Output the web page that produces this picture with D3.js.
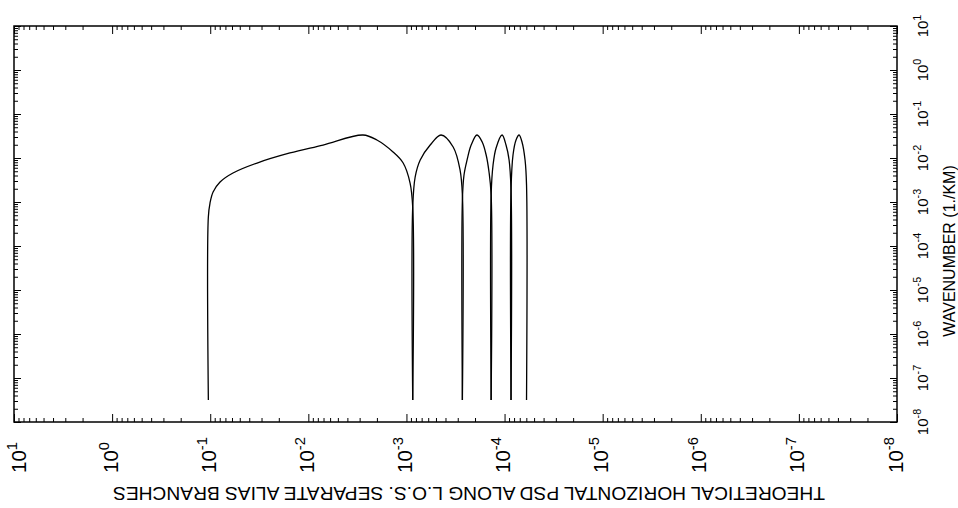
<!DOCTYPE html>
<html>
<head>
<meta charset="utf-8">
<script src="https://cdn.jsdelivr.net/npm/d3@7"></script>
<style>
    body { margin: 0; background: #fff; }
    text { font-family: 'Liberation Sans', Arial, sans-serif; fill: #000; }
</style>
</head>
<body>
<div id="graph"></div>
<script>
`use strict`;

// tick label exponents (bottom axis runs 10^1 -> 10^-8, right axis 10^-8 -> 10^1)
let bottomExps = [1, 0, -1, -2, -3, -4, -5, -6, -7, -8];
let rightExps = [-8, -7, -6, -5, -4, -3, -2, -1, 0, 1];

let bottomTitle = 'THEORETICAL HORIZONTAL PSD ALONG L.O.S. SEPARATE ALIAS BRANCHES';
let rightTitle = 'WAVENUMBER (1./KM)';

// alias branches, [horizontal value, vertical value]
let branch1 = [
    [1.045e-1, 3.16e-8], [1.045e-1, 4.57e-4], [1.005e-1, 9.48e-4], [9.35e-2, 1.69e-3],
    [7.94e-2, 2.85e-3], [5.86e-2, 4.56e-3], [3.33e-2, 7.69e-3], [1.54e-2, 1.30e-2],
    [7.08e-3, 1.97e-2], [2.77e-3, 3.33e-2], [2.00e-3, 2.56e-2], [1.37e-3, 1.37e-2],
    [1.08e-3, 7.69e-3], [9.18e-4, 2.70e-3], [8.63e-4, 7.69e-4], [8.63e-4, 3.16e-8]
];
let branch2 = [
    [8.63e-4, 3.16e-8], [8.63e-4, 7.70e-4], [8.15e-4, 3.70e-3], [7.24e-4, 9.02e-3],
    [5.73e-4, 1.97e-2], [4.44e-4, 3.33e-2], [3.34e-4, 1.78e-2], [2.84e-4, 5.33e-3],
    [2.69e-4, 1.44e-3], [2.69e-4, 3.16e-8]
];
let branch3 = [
    [2.69e-4, 3.16e-8], [2.69e-4, 1.10e-3], [2.59e-4, 4.11e-3], [2.41e-4, 9.02e-3],
    [2.19e-4, 1.97e-2], [1.91e-4, 3.33e-2], [1.69e-4, 2.31e-2], [1.54e-4, 1.17e-2],
    [1.44e-4, 4.81e-3], [1.37e-4, 1.44e-3], [1.37e-4, 3.16e-8]
];
let branch4 = [
    [1.37e-4, 3.16e-8], [1.37e-4, 1.44e-3], [1.31e-4, 6.93e-3], [1.22e-4, 1.69e-2],
    [1.06e-4, 3.33e-2], [9.66e-5, 1.97e-2], [8.99e-5, 9.02e-3], [8.59e-5, 1.87e-3],
    [8.59e-5, 3.16e-8]
];
let branch5 = [
    [8.59e-5, 3.16e-8], [8.59e-5, 1.87e-3], [8.20e-5, 1.17e-2], [7.64e-5, 2.56e-2],
    [7.11e-5, 3.33e-2], [6.64e-5, 2.31e-2], [6.18e-5, 9.02e-3], [5.97e-5, 2.43e-3],
    [5.97e-5, 3.16e-8]
];
let branches = [branch1, branch2, branch3, branch4, branch5];

let w = 958, h = 508;
let frame = {left: 14, right: 897, top: 26, bottom: 422};
let svg = d3.select('#graph').append('svg').attr('width', w).attr('height', h);

let scales = {};
scales.x = d3.scaleLog().domain([1e1, 1e-8]).range([frame.left, frame.right]); //reversed, big values on the left
scales.y = d3.scaleLog().domain([1e-8, 1e1]).range([frame.bottom, frame.top]);

let isMajor = function(d){ return Math.abs(Math.log10(d) - Math.round(Math.log10(d))) < 1e-6; };

//ticks on all four sides, pointing into the box
let drawTicks = function(axisFn, scale, transform, majorLen, minorLen){
    let all = scale.ticks(100);
    let major = all.filter(isMajor), minor = all.filter(d => !isMajor(d));
    [[major, majorLen], [minor, minorLen]].forEach(function(p){
        let g = svg.append('g').attr('class', 'axis').attr('transform', transform)
            .call(axisFn(scale).tickValues(p[0]).tickSize(p[1]).tickFormat(''));
        g.select('.domain').remove();
        g.selectAll('.tick line').attr('stroke', '#000').attr('stroke-width', 1);
    });
};
drawTicks(d3.axisBottom, scales.x, `translate(0,${frame.top})`, 8, 4);
drawTicks(d3.axisTop, scales.x, `translate(0,${frame.bottom})`, 8, 4);
drawTicks(d3.axisRight, scales.y, `translate(${frame.left},0)`, 7, 4);
drawTicks(d3.axisLeft, scales.y, `translate(${frame.right},0)`, 7, 4);

//box
svg.append('rect')
    .attr('x', frame.left).attr('y', frame.top)
    .attr('width', frame.right - frame.left).attr('height', frame.bottom - frame.top)
    .attr('fill', 'none').attr('stroke', '#000').attr('stroke-width', 1.5);

//power-of-ten labels, written sideways
let powerLabel = function(g, e, size){
    let t = g.append('text').attr('dy', '0.35em');
    t.append('tspan').attr('font-size', size).text('10');
    t.append('tspan').attr('font-size', size * 0.72).attr('dy', '-0.6em').text(e);
    return t;
};

bottomExps.forEach(function(e){
    let x = Math.max(scales.x(Math.pow(10, e)), 20); //keep the first one inside the page
    let g = svg.append('g')
        .attr('transform', `translate(${x},473)rotate(-90)`);
    powerLabel(g, e, 20.5).attr('text-anchor', 'start');
});

rightExps.forEach(function(e){
    let g = svg.append('g')
        .attr('transform', `translate(922,${scales.y(Math.pow(10, e))})rotate(-90)`);
    powerLabel(g, e, 15).attr('text-anchor', 'middle');
});

//axis titles
svg.append('text')
    .attr('text-anchor', 'middle')
    .attr('font-size', 16)
    .attr('dy', '0.35em')
    .attr('transform', 'translate(949,251)rotate(-90)')
    .text(rightTitle);
svg.append('text')
    .attr('text-anchor', 'middle')
    .attr('font-size', 19.2)
    .attr('dy', '0.35em')
    .attr('transform', 'translate(469,494)rotate(180)') //upside down like the scan
    .text(bottomTitle);

//the curve
let line = d3.line()
    .x(d => scales.x(d[0]))
    .y(d => scales.y(d[1]))
    .curve(d3.curveCatmullRom.alpha(0.5));

svg.selectAll('.branch').data(branches).enter()
    .append('path').classed('branch', true)
    .attr('d', line)
    .attr('fill', 'none')
    .attr('stroke', '#000')
    .attr('stroke-width', 1.3);
</script>
</body>
</html>
